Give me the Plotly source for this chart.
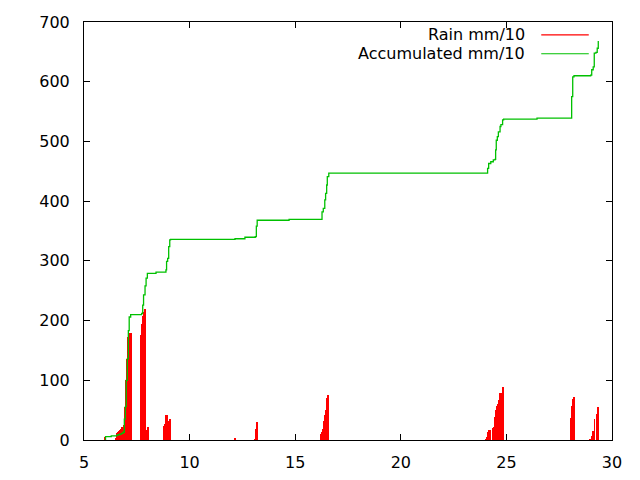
import plotly.graph_objects as go

# rain per hour (mm/10)
rain_x = [6.01, 6.51, 6.56, 6.61, 6.65, 6.70, 6.75, 6.80, 6.84, 6.89, 6.94, 6.98,
          7.03, 7.08, 7.13, 7.17, 7.22,
          7.70, 7.75, 7.79, 7.84, 7.89, 7.98, 8.03,
          8.79, 8.84, 8.88, 8.93, 8.98, 9.07,
          12.15, 13.10, 13.15, 13.20,
          16.22, 16.27, 16.32, 16.36, 16.41, 16.46, 16.50, 16.55,
          24.03, 24.08, 24.13, 24.18, 24.22, 24.37, 24.41, 24.46, 24.51, 24.55,
          24.60, 24.65, 24.70, 24.79, 24.84,
          28.06, 28.11, 28.15, 28.20,
          28.98, 29.03, 29.08, 29.12, 29.17, 29.27, 29.32]
rain_y = [5, 4, 11, 13, 15, 17, 18, 21, 22, 25, 56, 100,
          135, 172, 177, 179, 180,
          176, 194, 207, 215, 220, 17, 22,
          23, 27, 42, 42, 31, 35,
          2, 1, 18, 30,
          10, 14, 19, 31, 42, 51, 70, 75,
          1, 5, 13, 17, 17, 20, 22, 38, 50, 57,
          61, 67, 78, 78, 89,
          37, 57, 68, 72,
          1, 7, 10, 15, 35, 43, 55]

# accumulated (mm/10), step corners
acc_x = [6.00, 6.02, 6.29, 6.55, 6.62, 6.70, 6.78, 6.85, 6.91, 6.96, 7.00, 7.05,
         7.10, 7.14, 7.21, 7.73, 7.78, 7.82, 7.89, 7.94, 8.00, 8.41, 8.88, 8.91,
         8.96, 9.01, 9.06, 9.10, 12.15, 12.62, 13.11, 13.16, 13.20, 14.71,
         16.27, 16.33, 16.40, 16.44, 16.49, 16.52, 16.59,
         24.11, 24.16, 24.26, 24.38, 24.46, 24.49, 24.52, 24.57, 24.62, 24.70,
         24.74, 24.82, 24.87, 26.45,
         28.09, 28.14, 28.20, 28.99, 29.04, 29.11, 29.16, 29.24, 29.30, 29.35]
acc_y = [1, 5.5, 7, 8, 9, 10, 11, 13, 35, 56, 100, 136,
         183, 206, 210, 212, 226, 243, 258, 271, 279, 281, 285, 299,
         304, 324, 335, 336, 337, 339.5, 340.5, 358, 368, 369.5,
         382, 388, 402, 413, 427, 441, 447,
         455, 463, 466, 469, 470, 486, 502, 508, 516, 525,
         528, 536, 537.5, 539,
         575, 608, 610, 611, 620, 625, 648, 649, 656, 668]

series_names = ["Rain mm/10", "Accumulated mm/10"]
series_colors = ["#ff0000", "#00c000"]

fnt = dict(family="DejaVu Sans", size=16, color="black")

fig = go.Figure()
fig.add_trace(go.Bar(x=rain_x, y=rain_y, width=0.045, name=series_names[0],
                     marker=dict(color=series_colors[0], line=dict(width=0))))
fig.add_trace(go.Scatter(x=acc_x, y=acc_y, mode="lines", name=series_names[1],
                         line=dict(color=series_colors[1], width=1.3, shape="hv")))

# gnuplot style key: text right-aligned, sample line on the right
for i, (nm, col) in enumerate(zip(series_names, series_colors)):
    yp = 0.969 - i * 0.045
    fig.add_annotation(x=0.839, y=yp, xref="paper", yref="paper", text=nm,
                       showarrow=False, xanchor="right", yanchor="middle", font=fnt)
    fig.add_shape(type="line", xref="paper", yref="paper", x0=0.866, x1=0.956,
                  y0=yp, y1=yp, line=dict(color=col, width=1.2))

axis_common = dict(showgrid=False, zeroline=False, showline=True, linecolor="black",
                   linewidth=1, mirror="allticks", ticks="inside", ticklen=6,
                   tickcolor="black", tickfont=fnt, automargin=False)
fig.update_xaxes(range=[5, 30], tickvals=[5, 10, 15, 20, 25, 30],
                 ticklabelstandoff=8, **axis_common)
fig.update_yaxes(range=[0, 700], tickvals=[0, 100, 200, 300, 400, 500, 600, 700],
                 ticklabelstandoff=10, **axis_common)

# page body adds 8px, so the plot box is shifted back by that much
fig.update_layout(width=640, height=480, showlegend=False, bargap=0,
                  plot_bgcolor="white", paper_bgcolor="white",
                  margin=dict(l=76, r=36, t=14, b=48), font=fnt)

fig.write_html("out.html")
